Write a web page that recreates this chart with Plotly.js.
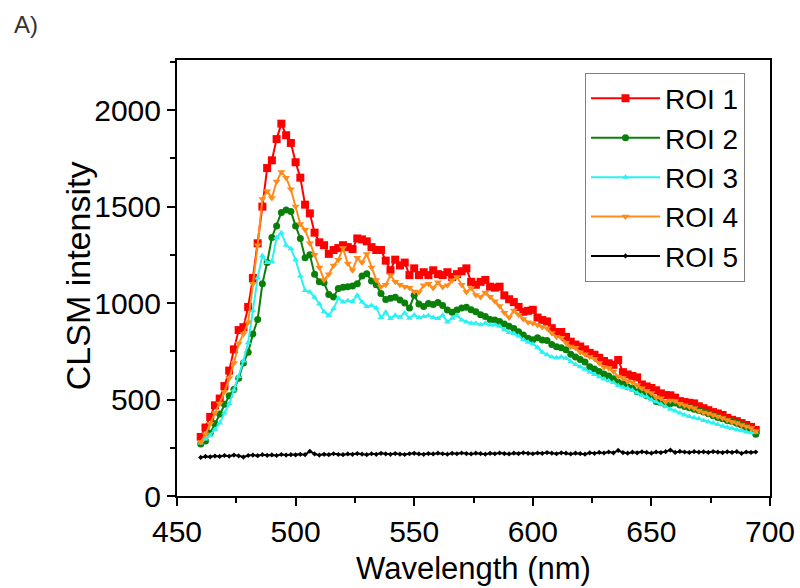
<!DOCTYPE html>
<html>
<head>
<meta charset="utf-8">
<script src="https://cdn.plot.ly/plotly-3.0.1.min.js"></script>
<style>html,body{margin:0;padding:0;background:#fff;}#chart{width:800px;height:588px;}</style>
</head>
<body>
<div id="chart"></div>
<script>
// Wavelength (nm)
const wavelength = [
460,462,464,466,468,470,472,474,476,478,
480,482,484,486,488,490,492,494,496,498,
500,502,504,506,508,510,512,514,516,518,
520,522,524,526,528,530,532,534,536,538,
540,542,544,546,548,550,552,554,556,558,
560,562,564,566,568,570,572,574,576,578,
580,582,584,586,588,590,592,594,596,598,
600,602,604,606,608,610,612,614,616,618,
620,622,624,626,628,630,632,634,636,638,
640,642,644,646,648,650,652,654,656,658,
660,662,664,666,668,670,672,674,676,678,
680,682,684,686,688,690,692,694];

const roi1 = [
306,355,410,470,505,570,650,760,860,875,
980,1130,1310,1500,1700,1740,1850,1930,1870,1830,
1730,1650,1510,1465,1365,1315,1300,1255,1275,1285,
1300,1290,1280,1335,1330,1320,1290,1275,1275,1220,
1170,1225,1195,1210,1145,1180,1145,1160,1145,1170,
1150,1145,1160,1135,1150,1165,1180,1110,1095,1110,
1120,1085,1080,1085,1040,1020,1005,980,955,960,
965,925,912,905,870,850,850,825,800,785,
775,760,742,732,716,700,688,680,705,642,
630,622,615,578,568,560,548,532,523,522,
510,492,487,483,480,465,455,445,435,428,
420,405,395,388,378,368,358,342];

const roi2 = [
270,285,325,375,425,475,520,552,610,690,
745,840,915,1100,1210,1340,1400,1470,1482,1475,
1400,1335,1235,1250,1150,1110,1105,1045,1032,1075,
1082,1085,1088,1100,1140,1152,1115,1095,1050,1018,
1025,1030,1016,1000,975,1040,995,982,998,992,
1003,988,964,953,964,974,979,965,955,940,
930,915,912,905,892,880,868,852,835,818,
810,820,808,806,785,773,768,758,735,720,
708,695,670,658,645,632,622,608,590,582,
566,558,540,534,519,510,490,484,474,478,
482,472,464,458,450,443,436,426,416,407,
400,392,386,377,368,356,340,320];

const roi3 = [
275,295,315,345,378,430,478,550,620,700,
795,960,1130,1245,1210,1215,1340,1365,1300,1282,
1225,1140,1065,1058,1030,995,955,935,970,1025,
1005,1012,1008,1040,1005,982,988,975,925,952,
920,937,927,948,922,938,925,930,936,925,
920,937,902,922,937,912,902,896,896,888,
895,886,886,880,862,848,842,830,810,797,
788,770,745,732,720,716,720,714,696,681,
670,657,642,630,618,606,598,588,573,564,
558,548,534,522,514,498,488,475,462,450,
440,430,420,412,405,400,392,385,378,370,
362,356,350,344,338,332,328,330];

const roi4 = [
280,320,375,430,480,540,610,690,790,840,
900,1100,1300,1540,1580,1545,1630,1680,1650,1590,
1500,1410,1380,1310,1250,1185,1120,1150,1195,1225,
1285,1205,1170,1235,1210,1255,1185,1120,1085,1095,
1145,1110,1095,1085,1080,1060,1058,1092,1100,1078,
1108,1083,1093,1118,1135,1095,1058,1078,1042,1032,
1055,1033,1010,985,950,925,962,940,918,900,
895,886,876,870,845,825,820,795,775,768,
745,735,722,712,690,668,664,645,620,612,
595,590,575,558,545,534,512,507,488,495,
492,478,470,463,455,442,433,428,420,412,
404,394,384,378,368,360,352,335];

const roi5 = [
200,205,203,207,205,210,206,212,208,202,
210,212,209,214,211,213,210,215,212,214,
213,216,214,232,218,212,216,214,219,215,
214,218,216,220,217,214,219,216,221,218,
216,220,217,215,219,221,218,216,220,218,
222,219,217,221,219,223,220,218,222,220,
217,221,219,223,220,218,222,220,224,221,
219,223,221,225,222,219,224,222,218,222,
220,217,224,221,226,223,228,224,236,225,
222,227,224,229,226,222,228,225,230,238,
226,231,228,226,230,227,229,226,230,227,
225,229,226,230,221,228,226,228];

const seriesNames = ["ROI 1","ROI 2","ROI 3","ROI 4","ROI 5"];
const seriesData = [roi1, roi2, roi3, roi4, roi5];
const seriesColors = ["#ff0000","#0a800a","#2af2f2","#ff8c1a","#000000"];
const seriesSymbols = ["square","circle","triangle-up","triangle-down","diamond"];
const markerSizes = [8,7,6,7,4];

const traces = seriesData.map((vals, i) => ({
  x: wavelength,
  y: vals,
  name: seriesNames[i],
  type: "scatter",
  mode: "lines+markers",
  line: {color: seriesColors[i], width: 2},
  marker: {color: seriesColors[i], symbol: seriesSymbols[i], size: markerSizes[i]}
}));

const fontFam = "Liberation Sans, Arial, sans-serif";

const layout = {
  width: 800, height: 588,
  margin: {l: 177, r: 30, t: 60, b: 92},
  paper_bgcolor: "#ffffff",
  plot_bgcolor: "#ffffff",
  showlegend: true,
  font: {family: fontFam, color: "#000", size: 30},
  xaxis: {
    range: [450, 700],
    tickmode: "array",
    tickvals: [450,500,550,600,650,700],
    ticks: "outside", ticklen: 8, tickwidth: 2, tickcolor: "#000",
    showline: true, linewidth: 2, linecolor: "#000", mirror: true,
    showgrid: false, zeroline: false,
    tickfont: {size: 30, family: fontFam},
    minor: {dtick: 25, ticks: "outside", ticklen: 5, tickwidth: 2, tickcolor: "#000", showgrid: false},
    title: {text: "Wavelength (nm)", font: {size: 31, family: fontFam}, standoff: 10}
  },
  yaxis: {
    range: [0, 2260],
    tickmode: "array",
    tickvals: [0,500,1000,1500,2000],
    ticks: "outside", ticklen: 8, tickwidth: 2, tickcolor: "#000",
    showline: true, linewidth: 2, linecolor: "#000", mirror: true,
    showgrid: false, zeroline: false,
    tickfont: {size: 30, family: fontFam},
    minor: {dtick: 250, ticks: "outside", ticklen: 5, tickwidth: 2, tickcolor: "#000", showgrid: false}
  },
  legend: {
    x: 0.688, y: 0.971, xanchor: "left", yanchor: "top",
    bgcolor: "#ffffff", bordercolor: "#808080", borderwidth: 1,
    font: {size: 28, family: fontFam},
    itemwidth: 69, tracegroupgap: 0
  },
  annotations: [{
    text: "A)", xref: "paper", yref: "paper", x: -0.279, y: 1.081,
    xanchor: "left", yanchor: "middle", showarrow: false,
    font: {size: 24, family: fontFam, color: "#333"}
  }, {
    text: "CLSM intensity", xref: "paper", yref: "paper", x: -0.168, y: 0.505,
    xanchor: "center", yanchor: "middle", textangle: -90, showarrow: false,
    font: {size: 34, family: fontFam, color: "#000"}
  }]
};

Plotly.newPlot("chart", traces, layout, {displayModeBar: false, staticPlot: true});
</script>
</body>
</html>
